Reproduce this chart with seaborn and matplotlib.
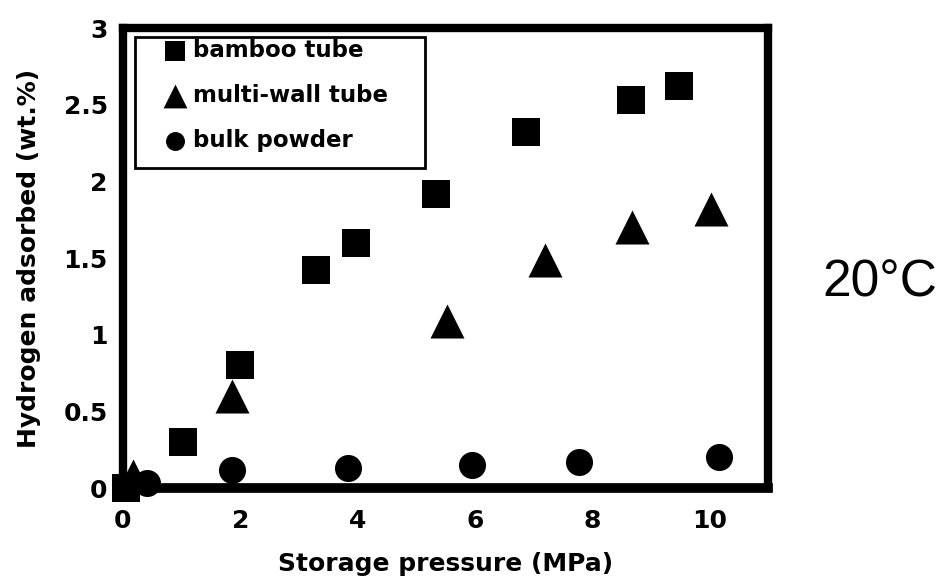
import matplotlib
matplotlib.use("Agg")
import matplotlib.pyplot as plt
import seaborn as sns
import pandas as pd
from matplotlib.ticker import MultipleLocator
from matplotlib.patches import Rectangle

# ---- data ----
bamboo_x = [0.05, 1.02, 1.99, 3.29, 3.98, 5.34, 6.88, 8.66, 9.48]
bamboo_y = [0.0, 0.30, 0.80, 1.42, 1.60, 1.92, 2.32, 2.53, 2.62]
multi_x = [0.17, 1.86, 5.53, 7.2, 8.68, 10.02]
multi_y = [0.08, 0.60, 1.09, 1.49, 1.70, 1.82]
bulk_x = [0.41, 1.86, 3.83, 5.96, 7.78, 10.16]
bulk_y = [0.03, 0.12, 0.13, 0.15, 0.17, 0.20]
series_names = ["bamboo tube", "multi-wall tube", "bulk powder"]
x_ticks = [0, 2, 4, 6, 8, 10]
y_ticks = [0, 0.5, 1, 1.5, 2, 2.5, 3]
y_tick_labels = ["0", "0.5", "1", "1.5", "2", "2.5", "3"]

frames = [
    pd.DataFrame({"x": bamboo_x, "y": bamboo_y, "series": series_names[0]}),
    pd.DataFrame({"x": multi_x, "y": multi_y, "series": series_names[1]}),
    pd.DataFrame({"x": bulk_x, "y": bulk_y, "series": series_names[2]}),
]
df = pd.concat(frames, ignore_index=True)

sns.set_style("white")
plt.rcParams["font.family"] = ["DejaVu Sans"]
plt.rcParams["text.color"] = "black"
plt.rcParams["axes.labelcolor"] = "black"
plt.rcParams["xtick.color"] = "black"
plt.rcParams["ytick.color"] = "black"

fig = plt.figure(figsize=(9.49, 5.85), dpi=100)
ax = fig.add_axes([0.1296, 0.1658, 0.6797, 0.7863])

markers = {series_names[0]: "s", series_names[1]: "^", series_names[2]: "o"}
sizes = {series_names[0]: 400, series_names[1]: 600, series_names[2]: 380}
for name in series_names:
    sub = df[df["series"] == name]
    sns.scatterplot(data=sub, x="x", y="y", marker=markers[name], s=sizes[name],
                    color="black", edgecolor="black", linewidth=0, label=name,
                    ax=ax, clip_on=False, zorder=3)

ax.set_xlim(0, 11.0)
ax.set_ylim(0, 3.0)
ax.set_xticks(x_ticks)
ax.set_xticklabels([str(t) for t in x_ticks])
ax.set_yticks(y_ticks)
ax.set_yticklabels(y_tick_labels)
ax.xaxis.set_minor_locator(MultipleLocator(1))
ax.yaxis.set_minor_locator(MultipleLocator(0.25))
ax.tick_params(axis="both", which="both", direction="in", width=3, color="black",
               labelsize=18)
ax.tick_params(axis="x", which="major", pad=15)
ax.tick_params(axis="y", which="major", pad=11)
ax.tick_params(axis="both", which="major", length=9)
ax.tick_params(axis="both", which="minor", length=8)
ax.tick_params(top=False, right=False)
for lab in ax.get_xticklabels() + ax.get_yticklabels():
    lab.set_fontweight("bold")

for side in ["left", "bottom", "right", "top"]:
    ax.spines[side].set_visible(True)
    ax.spines[side].set_color("black")
    ax.spines[side].set_linewidth(6)
ax.spines["bottom"].set_linewidth(7)

ax.set_xlabel("Storage pressure (MPa)", fontsize=18, fontweight="bold", labelpad=14)
ax.set_ylabel("Hydrogen adsorbed (wt.%)", fontsize=18, fontweight="bold", labelpad=16)

# legend box drawn as a frame in axes coordinates
ax.add_patch(Rectangle((0.0186, 0.696), 0.4496, 0.284, transform=ax.transAxes,
                       fill=False, edgecolor="black", linewidth=2, zorder=4))
leg = ax.legend(loc="upper left", bbox_to_anchor=(0.027, 0.99), frameon=False,
                markerscale=0.7, handletextpad=-0.4, borderpad=0.3,
                labelspacing=0.95, handlelength=2.4, borderaxespad=0.0,
                prop={"weight": "bold", "size": 16.5})

fig.text(0.867, 0.516, "20°C", fontsize=37, family="Liberation Sans",
         ha="left", va="center")

fig.savefig("out.png", dpi=100)
